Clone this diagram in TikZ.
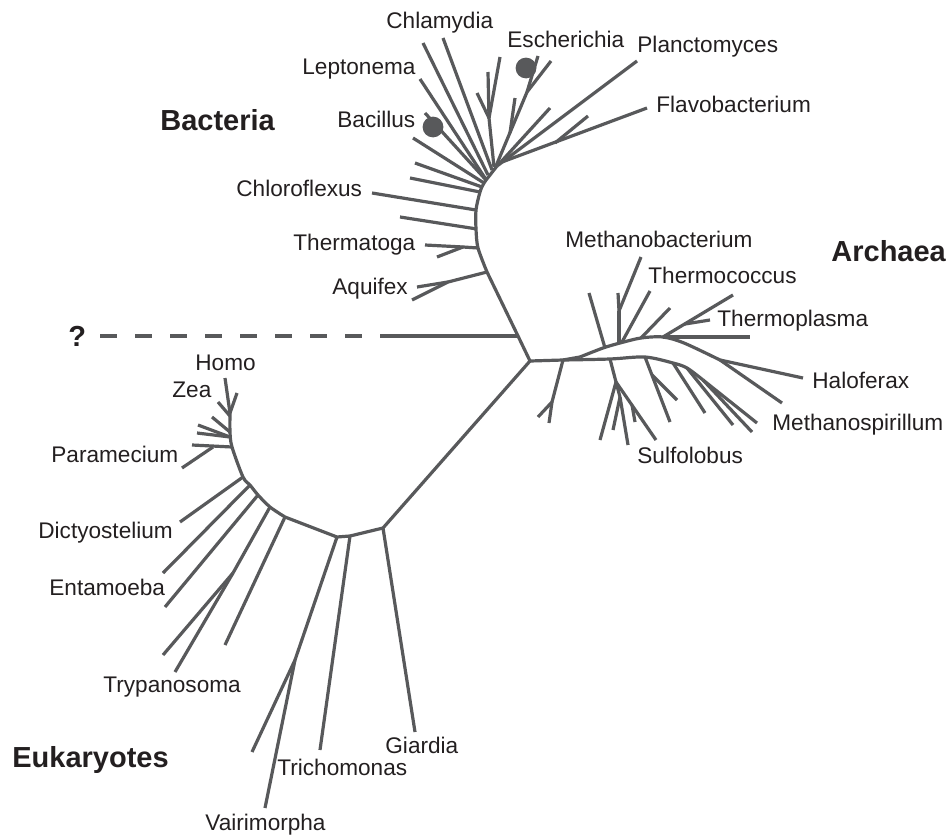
\documentclass[tikz,border=0pt]{standalone}
\usepackage{fontspec}
\setmainfont{Liberation Sans}
\definecolor{treegrey}{RGB}{88,89,91}
\definecolor{labelink}{RGB}{35,31,32}

\begin{document}
\begin{tikzpicture}[
    x=0.5pt, y=-0.5pt,
    branch/.style={line width=1.6pt, draw=treegrey, line join=round},
    taxon/.style={anchor=base west, inner sep=0pt, text=labelink, font=\fontsize{11.3}{13}\selectfont},
    kingdom/.style={anchor=base west, inner sep=0pt, text=labelink, font=\fontsize{14.5}{17}\selectfont\bfseries}
]
    \useasboundingbox (0,0) rectangle (947,835);

    % main stems
    \coordinate (root) at (530,361);
    \coordinate (qjoin) at (518,336);
    \coordinate (aqj) at (487,272);
    \coordinate (asplit) at (563,360);
    \coordinate (afork) at (580,357);
    \coordinate (ejoin) at (383,528);

    % Bacteria
    \draw[branch] (root) -- (qjoin) -- (aqj) -- plot[smooth] coordinates {(487,272) (478,248) (476,229) (476,210) (480,192) (484,183) (490,175) (497,166)};
    \foreach \x/\y/\u/\v in {487/272/448/282, 448/282/417/287, 448/282/412/300,
        478/248/463/247, 463/247/425/245, 463/247/437/257,
        477/229/400/217, 476/210/372/193, 480/192/410/178, 482/187/415/163,
        484/183/413/138, 486/180/425/113, 485/178/420/79, 488/175/423/43, 492/170/443/38,
        494/167/489/118, 489/118/477/93, 489/118/488/72, 489/118/500/57,
        497/166/637/61, 496/166/527/92, 527/92/538/56, 527/92/551/61, 510/133/515/98,
        499/164/550/108, 502/162/647/108, 555/143/588/116}
        \draw[branch] (\x,\y) -- (\u,\v);
    \fill[treegrey] (433,127) circle[radius=5.2pt];
    \fill[treegrey] (526,68) circle[radius=5.2pt];

    % the question
    \coordinate (qend) at (380,336);
    \draw[branch] (qjoin) -- (qend);
    \draw[branch, dash pattern=on 8.5pt off 9pt] (100,336) -- (362,336);

    % Archaea
    \draw[branch] (root) -- (asplit) -- (afork);
    \draw[branch] plot[smooth] coordinates {(580,357) (603,348) (620,343) (641,338) (663,337) (684,343) (720,360)};
    \draw[branch] plot[smooth] coordinates {(563,360) (610,359) (645,357) (673,363) (687,368) (703,380)};
    \foreach \x/\y/\u/\v in {563/360/552/402, 552/402/538/417, 552/402/549/423,
        605/348/589/293, 619/343/619/311, 619/311/618/293, 619/311/641/257,
        622/342/650/291, 641/338/670/308, 663/337/733/295, 685/324/710/320,
        663/337/750/337, 720/360/803/378, 720/360/782/403,
        610/359/616/382, 616/382/600/440, 616/382/656/440, 616/382/620/397,
        620/397/613/430, 620/397/628/445, 632/405/635/422,
        645/357/670/422, 652/375/677/400, 673/363/705/413, 687/368/733/425,
        703/380/752/432, 703/380/757/423}
        \draw[branch] (\x,\y) -- (\u,\v);

    % Eukaryotes
    \draw[branch] (root) -- (ejoin) -- (350,536) -- (337,537) -- (285,517) -- plot[smooth] coordinates {(285,517) (270,507) (258,495) (250,485) (243,477) (232,447) (230,432) (230,413)};
    \foreach \x/\y/\u/\v in {230/413/225/378, 230/413/237/393, 230/416/218/402,
        230/432/212/417, 230/437/198/425, 230/437/197/433, 232/447/192/445, 213/447/182/468,
        243/477/180/522, 250/485/163/573, 258/495/165/607,
        270/507/233/573, 233/573/163/655, 233/573/175/672, 285/517/225/645,
        337/537/295/660, 295/660/252/752, 295/660/265/808, 350/536/320/750, 383/528/415/732}
        \draw[branch] (\x,\y) -- (\u,\v);

    % labels
    \node[kingdom] (bacteria) at (160,130) {Bacteria};
    \node[kingdom] (archaea) at (831,261) {Archaea};
    \node[kingdom] (eukaryotes) at (12,767) {Eukaryotes};
    \node[kingdom] (qmark) at (68,346) {?};

    \node[taxon] (chlamydia) at (386,28) {Chlamydia};
    \node[taxon] (escherichia) at (507,47) {Escherichia};
    \node[taxon] (planctomyces) at (637,52) {Planctomyces};
    \node[taxon] (leptonema) at (302,74) {Leptonema};
    \node[taxon] (bacillus) at (337,127) {Bacillus};
    \node[taxon] (flavobacterium) at (656,112) {Flavobacterium};
    \node[taxon] (chloroflexus) at (236,196) {Chloroflexus};
    \node[taxon] (thermatoga) at (293,250) {Thermatoga};
    \node[taxon] (aquifex) at (332,294) {Aquifex};

    \node[taxon] (methanobacterium) at (565,247) {Methanobacterium};
    \node[taxon] (thermococcus) at (648,283) {Thermococcus};
    \node[taxon] (thermoplasma) at (717,326) {Thermoplasma};
    \node[taxon] (haloferax) at (812,388) {Haloferax};
    \node[taxon] (methanospirillum) at (772,430) {Methanospirillum};
    \node[taxon] (sulfolobus) at (637,463) {Sulfolobus};

    \node[taxon] (homo) at (195,370) {Homo};
    \node[taxon] (zea) at (172,397) {Zea};
    \node[taxon] (paramecium) at (51,462) {Paramecium};
    \node[taxon] (dictyostelium) at (38,538) {Dictyostelium};
    \node[taxon] (entamoeba) at (49,595) {Entamoeba};
    \node[taxon] (trypanosoma) at (103,692) {Trypanosoma};
    \node[taxon] (giardia) at (385,753) {Giardia};
    \node[taxon] (trichomonas) at (277,775) {Trichomonas};
    \node[taxon] (vairimorpha) at (205,830) {Vairimorpha};
\end{tikzpicture}
\end{document}
